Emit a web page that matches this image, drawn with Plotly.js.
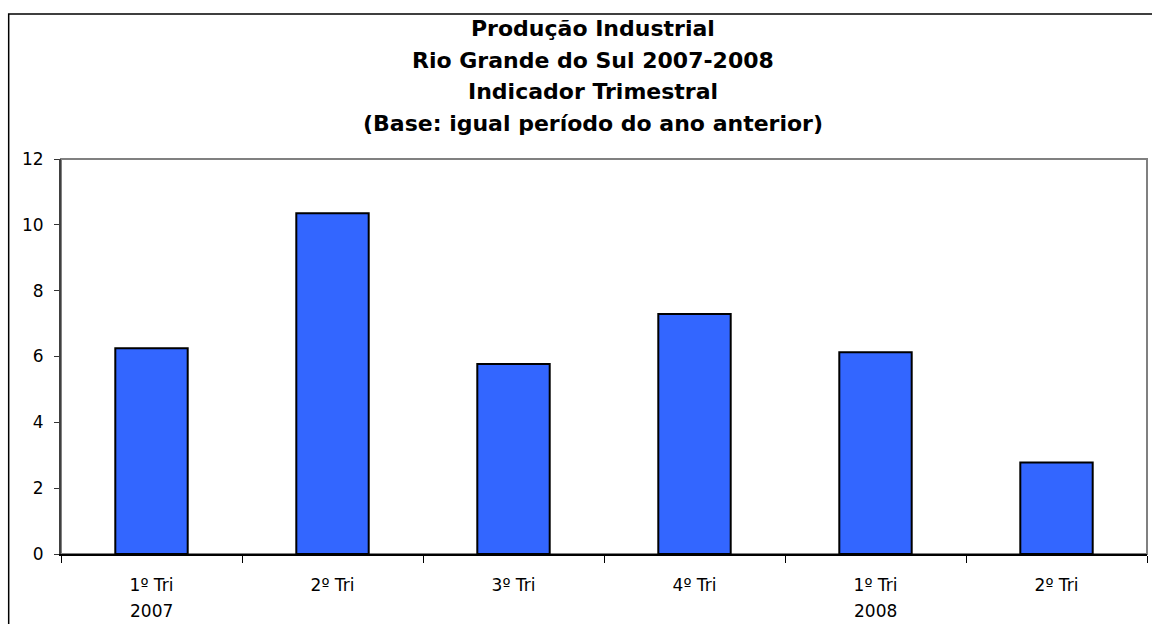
<!DOCTYPE html>
<html>
<head>
<meta charset="utf-8">
<script src="https://cdn.plot.ly/plotly-3.0.1.min.js"></script>
<style>html,body{margin:0;padding:0;background:#fff;}#chart{width:1152px;height:624px;}</style>
</head>
<body>
<div id="chart"></div>
<script>
var quarters = ["1º Tri", "2º Tri", "3º Tri", "4º Tri", "1º Tri ", "2º Tri "];
var tickLabels = ["1º Tri", "2º Tri", "3º Tri", "4º Tri", "1º Tri", "2º Tri"];
var yearLabels = ["2007", "", "", "", "2008", ""];
var values = [6.25, 10.35, 5.77, 7.29, 6.13, 2.78];
var titleLines = ["Produção Industrial", "Rio Grande do Sul 2007-2008", "Indicador Trimestral", "(Base: igual período do ano anterior)"];

var FONT = "DejaVu Sans, sans-serif";

var trace = {
  type: "bar",
  x: quarters,
  y: values,
  marker: {color: "#3366FF", line: {color: "#000000", width: 2}},
  hoverinfo: "skip"
};

var annotations = [];
var titleY = [28.5, 60.2, 91.9, 123.6];
titleLines.forEach(function(t, i) {
  annotations.push({
    text: "<b>" + t + "</b>",
    xref: "paper", yref: "paper",
    x: (593 - 61.3) / 1085.7,
    y: (554.3 - titleY[i]) / 395.3,
    xanchor: "center", yanchor: "middle",
    showarrow: false,
    font: {family: FONT, size: 22, color: "#000"}
  });
});
yearLabels.forEach(function(t, i) {
  if (!t) return;
  annotations.push({
    text: t,
    xref: "x", yref: "paper",
    x: quarters[i], y: 0,
    xanchor: "center", yanchor: "top",
    yshift: -45,
    showarrow: false,
    font: {family: FONT, size: 17, color: "#000"}
  });
});

var layout = {
  width: 1152, height: 624,
  margin: {l: 61.3, r: 5, t: 159, b: 69.7, pad: 0},
  paper_bgcolor: "#fff", plot_bgcolor: "#fff",
  showlegend: false,
  bargap: 0.6,
  font: {family: FONT, color: "#000"},
  xaxis: {
    type: "category",
    tickvals: quarters,
    ticktext: tickLabels,
    tickson: "boundaries",
    ticks: "outside", ticklen: 7, tickcolor: "#000", tickwidth: 1,
    ticklabelstandoff: 15,
    showline: true, linecolor: "#000", linewidth: 2,
    showgrid: false, zeroline: false,
    tickfont: {family: FONT, size: 17, color: "#000"},
    fixedrange: true
  },
  yaxis: {
    range: [0, 12], dtick: 2, tick0: 0,
    ticks: "outside", ticklen: 5, tickcolor: "#333", tickwidth: 1,
    showline: true, linecolor: "#404040", linewidth: 2,
    showgrid: false, zeroline: false,
    ticklabelstandoff: 7,
    tickfont: {family: FONT, size: 17, color: "#000"},
    fixedrange: true
  },
  shapes: [
    {type: "rect", xref: "paper", yref: "paper", x0: 0, x1: 1, y0: 0, y1: 1,
     line: {color: "#808080", width: 2}, fillcolor: "rgba(0,0,0,0)", layer: "below"},
    {type: "rect", xref: "paper", yref: "paper",
     x0: (9 - 61.3) / 1085.7, x1: 1.2, y0: -0.5, y1: (554.3 - 14) / 395.3,
     line: {color: "#000", width: 1.5}, fillcolor: "rgba(0,0,0,0)", layer: "below"}
  ],
  annotations: annotations
};

Plotly.newPlot("chart", [trace], layout, {displayModeBar: false, staticPlot: true});
</script>
</body>
</html>
